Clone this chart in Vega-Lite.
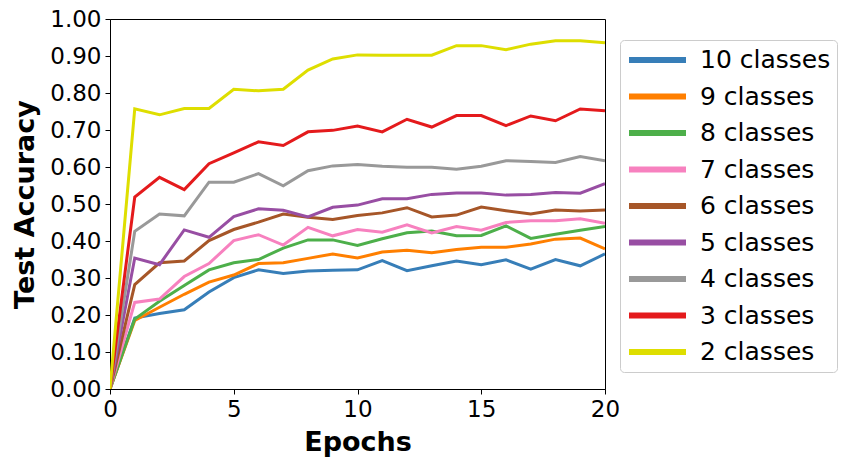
{
  "$schema": "https://vega.github.io/schema/vega-lite/v6.json",
  "autosize": "none",
  "width": 495,
  "height": 370,
  "padding": {"left": 110, "top": 19, "right": 245, "bottom": 77},
  "background": "white",
  "config": {
    "font": "DejaVu Sans",
    "view": {"stroke": "black", "strokeWidth": 1},
    "axis": {
      "grid": false,
      "domainColor": "black",
      "tickColor": "black",
      "tickSize": 5,
      "labelColor": "black",
      "labelFontSize": 23,
      "labelPadding": 4,
      "titleFontSize": 27,
      "titleFontWeight": "bold",
      "titleColor": "black",
      "titlePadding": 8
    }
  },
  "data": {
    "values": [
      {"epoch": 0, "10 classes": 0, "9 classes": 0, "8 classes": 0, "7 classes": 0, "6 classes": 0, "5 classes": 0, "4 classes": 0, "3 classes": 0, "2 classes": 0},
      {"epoch": 1, "10 classes": 0.192, "9 classes": 0.185, "8 classes": 0.189, "7 classes": 0.234, "6 classes": 0.282, "5 classes": 0.354, "4 classes": 0.426, "3 classes": 0.519, "2 classes": 0.757},
      {"epoch": 2, "10 classes": 0.204, "9 classes": 0.221, "8 classes": 0.237, "7 classes": 0.243, "6 classes": 0.341, "5 classes": 0.336, "4 classes": 0.473, "3 classes": 0.572, "2 classes": 0.741},
      {"epoch": 3, "10 classes": 0.214, "9 classes": 0.256, "8 classes": 0.280, "7 classes": 0.304, "6 classes": 0.346, "5 classes": 0.430, "4 classes": 0.468, "3 classes": 0.539, "2 classes": 0.758},
      {"epoch": 4, "10 classes": 0.262, "9 classes": 0.289, "8 classes": 0.322, "7 classes": 0.339, "6 classes": 0.401, "5 classes": 0.410, "4 classes": 0.559, "3 classes": 0.609, "2 classes": 0.758},
      {"epoch": 5, "10 classes": 0.301, "9 classes": 0.308, "8 classes": 0.341, "7 classes": 0.401, "6 classes": 0.431, "5 classes": 0.466, "4 classes": 0.559, "3 classes": 0.638, "2 classes": 0.810},
      {"epoch": 6, "10 classes": 0.322, "9 classes": 0.339, "8 classes": 0.350, "7 classes": 0.417, "6 classes": 0.451, "5 classes": 0.487, "4 classes": 0.582, "3 classes": 0.668, "2 classes": 0.806},
      {"epoch": 7, "10 classes": 0.312, "9 classes": 0.341, "8 classes": 0.381, "7 classes": 0.389, "6 classes": 0.473, "5 classes": 0.483, "4 classes": 0.549, "3 classes": 0.658, "2 classes": 0.810},
      {"epoch": 8, "10 classes": 0.319, "9 classes": 0.353, "8 classes": 0.403, "7 classes": 0.437, "6 classes": 0.464, "5 classes": 0.465, "4 classes": 0.590, "3 classes": 0.695, "2 classes": 0.862},
      {"epoch": 9, "10 classes": 0.321, "9 classes": 0.365, "8 classes": 0.403, "7 classes": 0.414, "6 classes": 0.458, "5 classes": 0.491, "4 classes": 0.603, "3 classes": 0.699, "2 classes": 0.892},
      {"epoch": 10, "10 classes": 0.322, "9 classes": 0.354, "8 classes": 0.388, "7 classes": 0.431, "6 classes": 0.469, "5 classes": 0.497, "4 classes": 0.607, "3 classes": 0.711, "2 classes": 0.903},
      {"epoch": 11, "10 classes": 0.347, "9 classes": 0.370, "8 classes": 0.406, "7 classes": 0.424, "6 classes": 0.476, "5 classes": 0.514, "4 classes": 0.602, "3 classes": 0.695, "2 classes": 0.902},
      {"epoch": 12, "10 classes": 0.320, "9 classes": 0.375, "8 classes": 0.422, "7 classes": 0.444, "6 classes": 0.490, "5 classes": 0.514, "4 classes": 0.599, "3 classes": 0.729, "2 classes": 0.902},
      {"epoch": 13, "10 classes": 0.333, "9 classes": 0.368, "8 classes": 0.427, "7 classes": 0.422, "6 classes": 0.465, "5 classes": 0.526, "4 classes": 0.599, "3 classes": 0.708, "2 classes": 0.902},
      {"epoch": 14, "10 classes": 0.346, "9 classes": 0.377, "8 classes": 0.414, "7 classes": 0.439, "6 classes": 0.470, "5 classes": 0.530, "4 classes": 0.594, "3 classes": 0.739, "2 classes": 0.928},
      {"epoch": 15, "10 classes": 0.336, "9 classes": 0.383, "8 classes": 0.415, "7 classes": 0.429, "6 classes": 0.492, "5 classes": 0.530, "4 classes": 0.602, "3 classes": 0.739, "2 classes": 0.928},
      {"epoch": 16, "10 classes": 0.349, "9 classes": 0.383, "8 classes": 0.441, "7 classes": 0.450, "6 classes": 0.482, "5 classes": 0.524, "4 classes": 0.617, "3 classes": 0.712, "2 classes": 0.917},
      {"epoch": 17, "10 classes": 0.324, "9 classes": 0.392, "8 classes": 0.407, "7 classes": 0.455, "6 classes": 0.473, "5 classes": 0.526, "4 classes": 0.615, "3 classes": 0.738, "2 classes": 0.932},
      {"epoch": 18, "10 classes": 0.350, "9 classes": 0.405, "8 classes": 0.418, "7 classes": 0.455, "6 classes": 0.484, "5 classes": 0.531, "4 classes": 0.612, "3 classes": 0.725, "2 classes": 0.941},
      {"epoch": 19, "10 classes": 0.333, "9 classes": 0.408, "8 classes": 0.429, "7 classes": 0.460, "6 classes": 0.481, "5 classes": 0.529, "4 classes": 0.628, "3 classes": 0.757, "2 classes": 0.941},
      {"epoch": 20, "10 classes": 0.365, "9 classes": 0.379, "8 classes": 0.439, "7 classes": 0.448, "6 classes": 0.484, "5 classes": 0.555, "4 classes": 0.617, "3 classes": 0.752, "2 classes": 0.936}
    ]
  },
  "transform": [
    {"fold": ["10 classes", "9 classes", "8 classes", "7 classes", "6 classes", "5 classes", "4 classes", "3 classes", "2 classes"], "as": ["series", "acc"]}
  ],
  "mark": {"type": "line", "strokeWidth": 3, "clip": true},
  "encoding": {
    "x": {
      "field": "epoch",
      "type": "quantitative",
      "title": "Epochs",
      "scale": {"domain": [0, 20], "nice": false},
      "axis": {"values": [0, 5, 10, 15, 20], "labelFlush": false}
    },
    "y": {
      "field": "acc",
      "type": "quantitative",
      "title": "Test Accuracy",
      "scale": {"domain": [0, 1], "nice": false},
      "axis": {"values": [0, 0.1, 0.2, 0.3, 0.4, 0.5, 0.6, 0.7, 0.8, 0.9, 1.0], "format": ".2f", "labelFlush": false, "titlePadding": 10}
    },
    "color": {
      "field": "series",
      "type": "nominal",
      "scale": {
        "domain": ["10 classes", "9 classes", "8 classes", "7 classes", "6 classes", "5 classes", "4 classes", "3 classes", "2 classes"],
        "range": ["#377eb8", "#ff7f00", "#4daf4a", "#f781bf", "#a65628", "#984ea3", "#999999", "#e41a1c", "#dede00"]
      },
      "legend": {
        "title": null,
        "orient": "none",
        "legendX": 510,
        "legendY": 21,
        "symbolType": "stroke",
        "symbolSize": 3249,
        "symbolStrokeWidth": 6,
        "clipHeight": 28,
        "labelFontSize": 25,
        "labelColor": "black",
        "labelOffset": 11,
        "rowPadding": 8.5,
        "padding": 6,
        "strokeColor": "#cccccc",
        "cornerRadius": 4,
        "fillColor": "white"
      }
    },
    "order": {"field": "epoch", "type": "quantitative"}
  }
}
